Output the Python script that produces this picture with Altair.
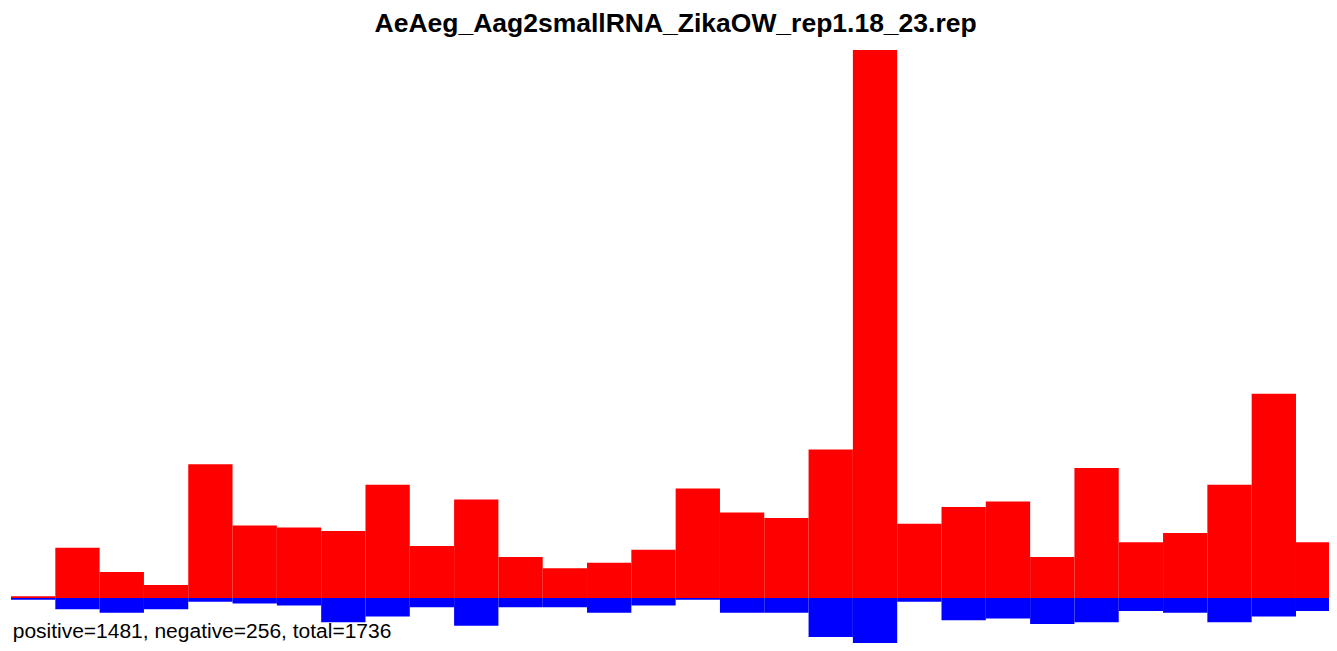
import altair as alt
import pandas as pd

# ---- data ----
positions = list(range(30))
positive = [1, 27, 14, 7, 72, 39, 38, 36, 61, 28, 53, 22, 16, 19, 26,
            59, 46, 43, 80, 295, 40, 49, 52, 22, 70, 30, 35, 61, 110, 30]
negative = [1, 6, 8, 6, 2, 3, 4, 13, 10, 5, 15, 5, 5, 8, 4,
            1, 8, 8, 21, 26, 2, 12, 11, 14, 13, 7, 8, 13, 10, 7]
title_text = ["AeAeg_Aag2smallRNA_ZikaOW_rep1.18_23.rep"]
footer_text = ["positive=1481, negative=256, total=1736"]

rows = []
for p, a, b in zip(positions, positive, negative):
    rows.append({"start": p, "end": p + 1, "strand": "pos", "count": a})
    rows.append({"start": p, "end": p + 1, "strand": "neg", "count": -b})
df = pd.DataFrame(rows)

PX_PER_BAR = 44.31
W = 1318                      # plot area: page x 11 .. 1329
PX_PER_COUNT = 1.8576
Y_MIN = -24.3
Y_MAX = 295
H = (Y_MAX - Y_MIN) * PX_PER_COUNT
FONT = "Liberation Sans"

xs = alt.Scale(domain=[0, W / PX_PER_BAR], nice=False, zero=False)
ys = alt.Scale(domain=[Y_MIN, Y_MAX], nice=False, zero=False)

bars = alt.Chart(df).mark_bar(clip=True).encode(
    x=alt.X("start:Q", scale=xs, axis=None),
    x2="end:Q",
    y=alt.Y("count:Q", scale=ys, axis=None),
    y2=alt.datum(0),
    color=alt.Color("strand:N",
                    scale=alt.Scale(domain=["pos", "neg"], range=["#ff0000", "#0000ff"]),
                    legend=None),
)

title = alt.Chart(pd.DataFrame({"t": title_text})).mark_text(
    font=FONT, fontSize=26.5, fontWeight="bold", align="center", baseline="alphabetic", color="black"
).encode(text="t:N", x=alt.value(664.6), y=alt.value(-18))

footer = alt.Chart(pd.DataFrame({"t": footer_text})).mark_text(
    font=FONT, fontSize=21, align="left", baseline="alphabetic", color="black"
).encode(text="t:N", x=alt.value(1.7), y=alt.value(588))

chart = alt.layer(bars, title, footer).properties(
    width=W,
    height=H,
    padding={"left": 3, "top": 42, "right": 0, "bottom": 0},
    autosize=alt.AutoSizeParams(type="none"),
).configure_view(stroke=None)

chart.save("out.html", embed_options={"renderer": "svg", "actions": False})
